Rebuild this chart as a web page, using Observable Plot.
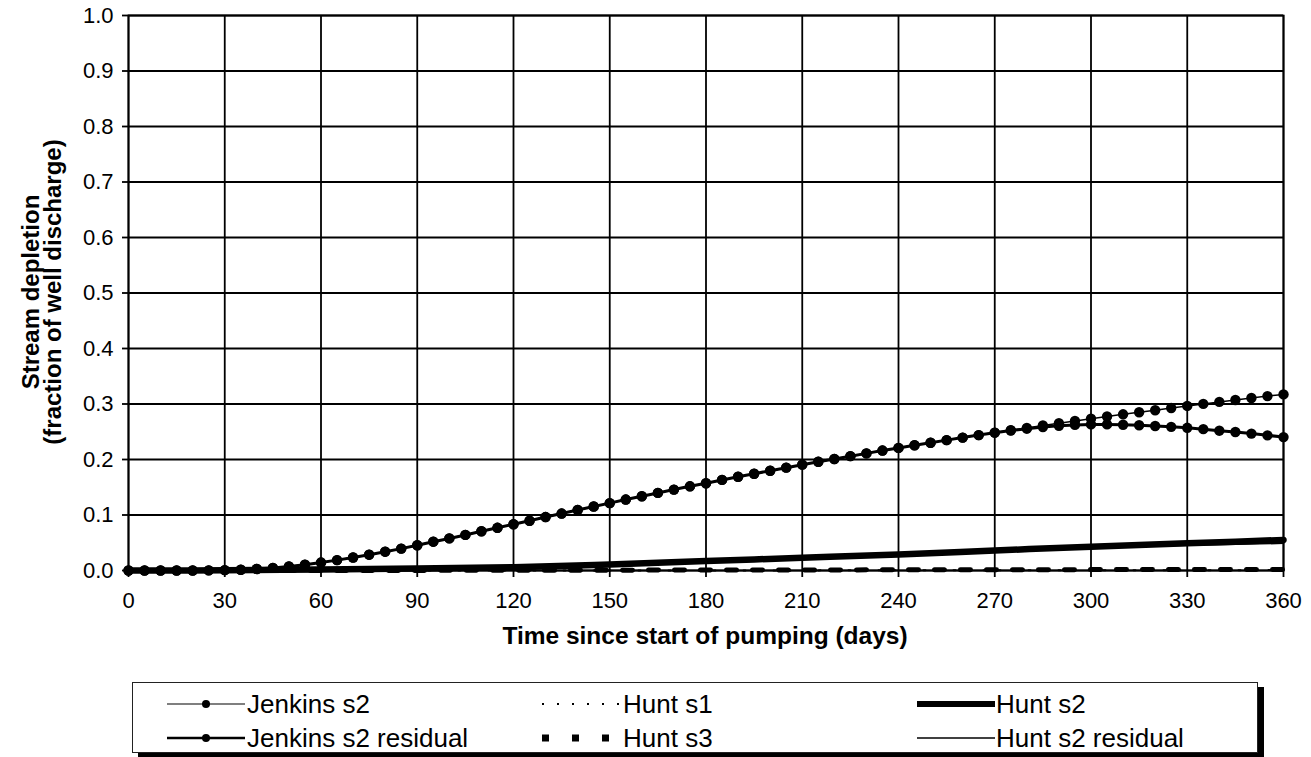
<!DOCTYPE html>
<html>
<head>
<meta charset="utf-8">
<script src="https://cdn.jsdelivr.net/npm/d3@7"></script>
<script src="https://cdn.jsdelivr.net/npm/@observablehq/plot@0.6"></script>
<style>
  body { margin: 0; background: white; }
  #wrap { position: relative; width: 1311px; height: 757px; font-family: Arial, "Liberation Sans", sans-serif; color: black; background: white; overflow: hidden; }
  #wrap svg { display: block; }
  .xtitle { position: absolute; left: 705px; top: 624px; transform: translateX(-50%); font-weight: bold; font-size: 24.5px; line-height: 24px; white-space: nowrap; }
  .ytitle { position: absolute; left: 42px; top: 292px; transform: translate(-50%, -50%) rotate(-90deg); font-weight: bold; font-size: 24px; line-height: 22px; white-space: nowrap; text-align: center; }
  .legend { position: absolute; left: 132px; top: 682px; width: 1124px; height: 69px; border: 1.5px solid #222; box-shadow: 6px 5px 0 #000; background: white; }
  .legend .item { position: absolute; height: 26px; }
  .legend .item svg { position: absolute; top: 0; }
  .legend .item span { position: absolute; top: 0; font-size: 26px; line-height: 26px; white-space: nowrap; }
</style>
</head>
<body>
<div id="wrap"></div>
<script>
// ---- data ----
const days = [0,5,10,15,20,25,30,35,40,45,50,55,60,65,70,75,80,85,90,95,100,105,110,115,120,125,130,135,140,145,150,155,160,165,170,175,180,185,190,195,200,205,210,215,220,225,230,235,240,245,250,255,260,265,270,275,280,285,290,295,300,305,310,315,320,325,330,335,340,345,350,355,360];
const jenkinsS2 = [0,0,0,0,0,0.0002,0.0006,0.0014,0.0027,0.0047,0.0072,0.0104,0.0143,0.0187,0.0234,0.0285,0.0339,0.0394,0.0455,0.0519,0.0578,0.0641,0.0707,0.0769,0.0833,0.0897,0.0963,0.1026,0.1090,0.1153,0.1214,0.1278,0.1338,0.1398,0.1458,0.1517,0.1573,0.1632,0.1689,0.1744,0.1797,0.1853,0.1907,0.1959,0.2009,0.2060,0.2110,0.2161,0.2209,0.2256,0.2302,0.2349,0.2395,0.2440,0.2485,0.2528,0.2569,0.2612,0.2654,0.2695,0.2736,0.2775,0.2814,0.2852,0.2888,0.2927,0.2965,0.3002,0.3038,0.3073,0.3108,0.3142,0.3173];
const jenkinsS2Residual = [0,0,0,0,0,0.0002,0.0006,0.0014,0.0027,0.0047,0.0072,0.0104,0.0143,0.0187,0.0234,0.0285,0.0339,0.0394,0.0455,0.0519,0.0578,0.0641,0.0707,0.0769,0.0833,0.0897,0.0963,0.1026,0.1090,0.1153,0.1214,0.1278,0.1338,0.1398,0.1458,0.1517,0.1573,0.1632,0.1689,0.1744,0.1797,0.1853,0.1907,0.1959,0.2009,0.2060,0.2110,0.2161,0.2209,0.2256,0.2302,0.2349,0.2395,0.2440,0.2483,0.2522,0.2555,0.2585,0.2607,0.2623,0.2632,0.2632,0.2627,0.2618,0.2603,0.2588,0.2571,0.2547,0.2519,0.2495,0.2467,0.2435,0.2404];

const huntDays = [0,30,60,90,120,150,180,210,240,270,300,330,360];
const huntS1 = [0,0,0,0,0,0,0,0.0002,0.0003,0.0004,0.0005,0.0006,0.0007];
const huntS2 = [0,0.0005,0.002,0.0035,0.006,0.011,0.017,0.023,0.029,0.036,0.043,0.049,0.055];
const huntS3 = [0,0,0,0.0002,0.0004,0.0006,0.0008,0.001,0.0012,0.0014,0.0016,0.0018,0.002];
const huntS2Residual = [0,0.0005,0.002,0.0035,0.006,0.011,0.017,0.023,0.029,0.0355,0.041,0.0455,0.049];

const xTicks = [0,30,60,90,120,150,180,210,240,270,300,330,360];
const yTicks = [0,0.1,0.2,0.3,0.4,0.5,0.6,0.7,0.8,0.9,1.0];

const xTitle = "Time since start of pumping (days)";
const yTitle1 = "Stream depletion";
const yTitle2 = "(fraction of well discharge)";

const legendItems = [
  {label: "Jenkins s2", col: 0, row: 0, w: 1.2, dash: null, dot: true},
  {label: "Hunt s1", col: 1, row: 0, w: 2, dash: "2,13", dot: false},
  {label: "Hunt s2", col: 2, row: 0, w: 6, dash: null, dot: false},
  {label: "Jenkins s2 residual", col: 0, row: 1, w: 2.6, dash: null, dot: true},
  {label: "Hunt s3", col: 1, row: 1, w: 7, dash: "7,23", dot: false},
  {label: "Hunt s2 residual", col: 2, row: 1, w: 1.6, dash: null, dot: false}
];

// ---- tables ----
const jTable = days.map((d, i) => ({day: d, v: jenkinsS2[i]}));
const jrTable = days.map((d, i) => ({day: d, v: jenkinsS2Residual[i]}));
const h1Table = huntDays.map((d, i) => ({day: d, v: huntS1[i]}));
const h2Table = huntDays.map((d, i) => ({day: d, v: huntS2[i]}));
const h3Table = huntDays.map((d, i) => ({day: d, v: huntS3[i]}));
const h2rTable = huntDays.map((d, i) => ({day: d, v: huntS2Residual[i]}));

const plot = Plot.plot({
  width: 1311,
  height: 660,
  marginLeft: 128,
  marginRight: 28,
  marginTop: 15,
  marginBottom: 90,
  style: {fontFamily: "Arial, 'Liberation Sans', sans-serif", fontSize: "22px", color: "black", background: "white"},
  x: {domain: [0, 360], label: null},
  y: {domain: [0, 1], label: null},
  marks: [
    Plot.gridX(xTicks, {stroke: "black", strokeOpacity: 1, strokeWidth: 1.8}),
    Plot.gridY(yTicks, {stroke: "black", strokeOpacity: 1, strokeWidth: 1.8}),
    Plot.frame({stroke: "black", strokeWidth: 1.8}),
    Plot.axisX({ticks: xTicks, tickSize: 7, tickPadding: 15, label: null, strokeWidth: 1.8}),
    Plot.axisY({ticks: yTicks, tickFormat: d3.format(".1f"), tickSize: 6, tickPadding: 9, label: null, strokeWidth: 1.8}),
    Plot.line(h1Table, {x: "day", y: "v", stroke: "black", strokeWidth: 2, strokeDasharray: "2,13", curve: "monotone-x"}),
    Plot.line(h3Table, {x: "day", y: "v", stroke: "black", strokeWidth: 5, strokeDasharray: "10,16", curve: "monotone-x"}),
    Plot.line(h2rTable, {x: "day", y: "v", stroke: "black", strokeWidth: 1.6, curve: "monotone-x"}),
    Plot.line(h2Table, {x: "day", y: "v", stroke: "black", strokeWidth: 6.5, curve: "monotone-x"}),
    Plot.line(jrTable, {x: "day", y: "v", stroke: "black", strokeWidth: 3}),
    Plot.dot(jrTable, {x: "day", y: "v", r: 5.2, fill: "black", stroke: "none"}),
    Plot.line(jTable, {x: "day", y: "v", stroke: "black", strokeWidth: 1.5}),
    Plot.dot(jTable, {x: "day", y: "v", r: 5.2, fill: "black", stroke: "none"})
  ]
});

const wrap = document.getElementById("wrap");
wrap.appendChild(plot);

const xt = document.createElement("div");
xt.className = "xtitle";
xt.textContent = xTitle;
wrap.appendChild(xt);

const yt = document.createElement("div");
yt.className = "ytitle";
const l1 = document.createElement("div"); l1.textContent = yTitle1;
const l2 = document.createElement("div"); l2.textContent = yTitle2;
yt.appendChild(l1); yt.appendChild(l2);
wrap.appendChild(yt);

// legend
const legend = document.createElement("div");
legend.className = "legend";
wrap.appendChild(legend);
const colSample = [34, 409, 784];
const colText = [114, 490, 863];
const rowCenter = [21, 55];
const sampleW = 78;
legendItems.forEach(it => {
  const item = document.createElement("div");
  item.className = "item";
  item.style.left = "0px";
  item.style.top = (rowCenter[it.row] - 13) + "px";
  const svg = d3.create("svg").attr("width", sampleW).attr("height", 26)
    .style("left", colSample[it.col] + "px").style("top", "0px");
  const ln = svg.append("line").attr("x1", 0).attr("x2", sampleW).attr("y1", 13).attr("y2", 13)
    .attr("stroke", "black").attr("stroke-width", it.w);
  if (it.dash) ln.attr("stroke-dasharray", it.dash);
  if (it.dot) svg.append("circle").attr("cx", sampleW / 2).attr("cy", 13).attr("r", 4).attr("fill", "black");
  item.appendChild(svg.node());
  const sp = document.createElement("span");
  sp.textContent = it.label;
  sp.style.left = colText[it.col] + "px";
  item.appendChild(sp);
  legend.appendChild(item);
});
</script>
</body>
</html>
